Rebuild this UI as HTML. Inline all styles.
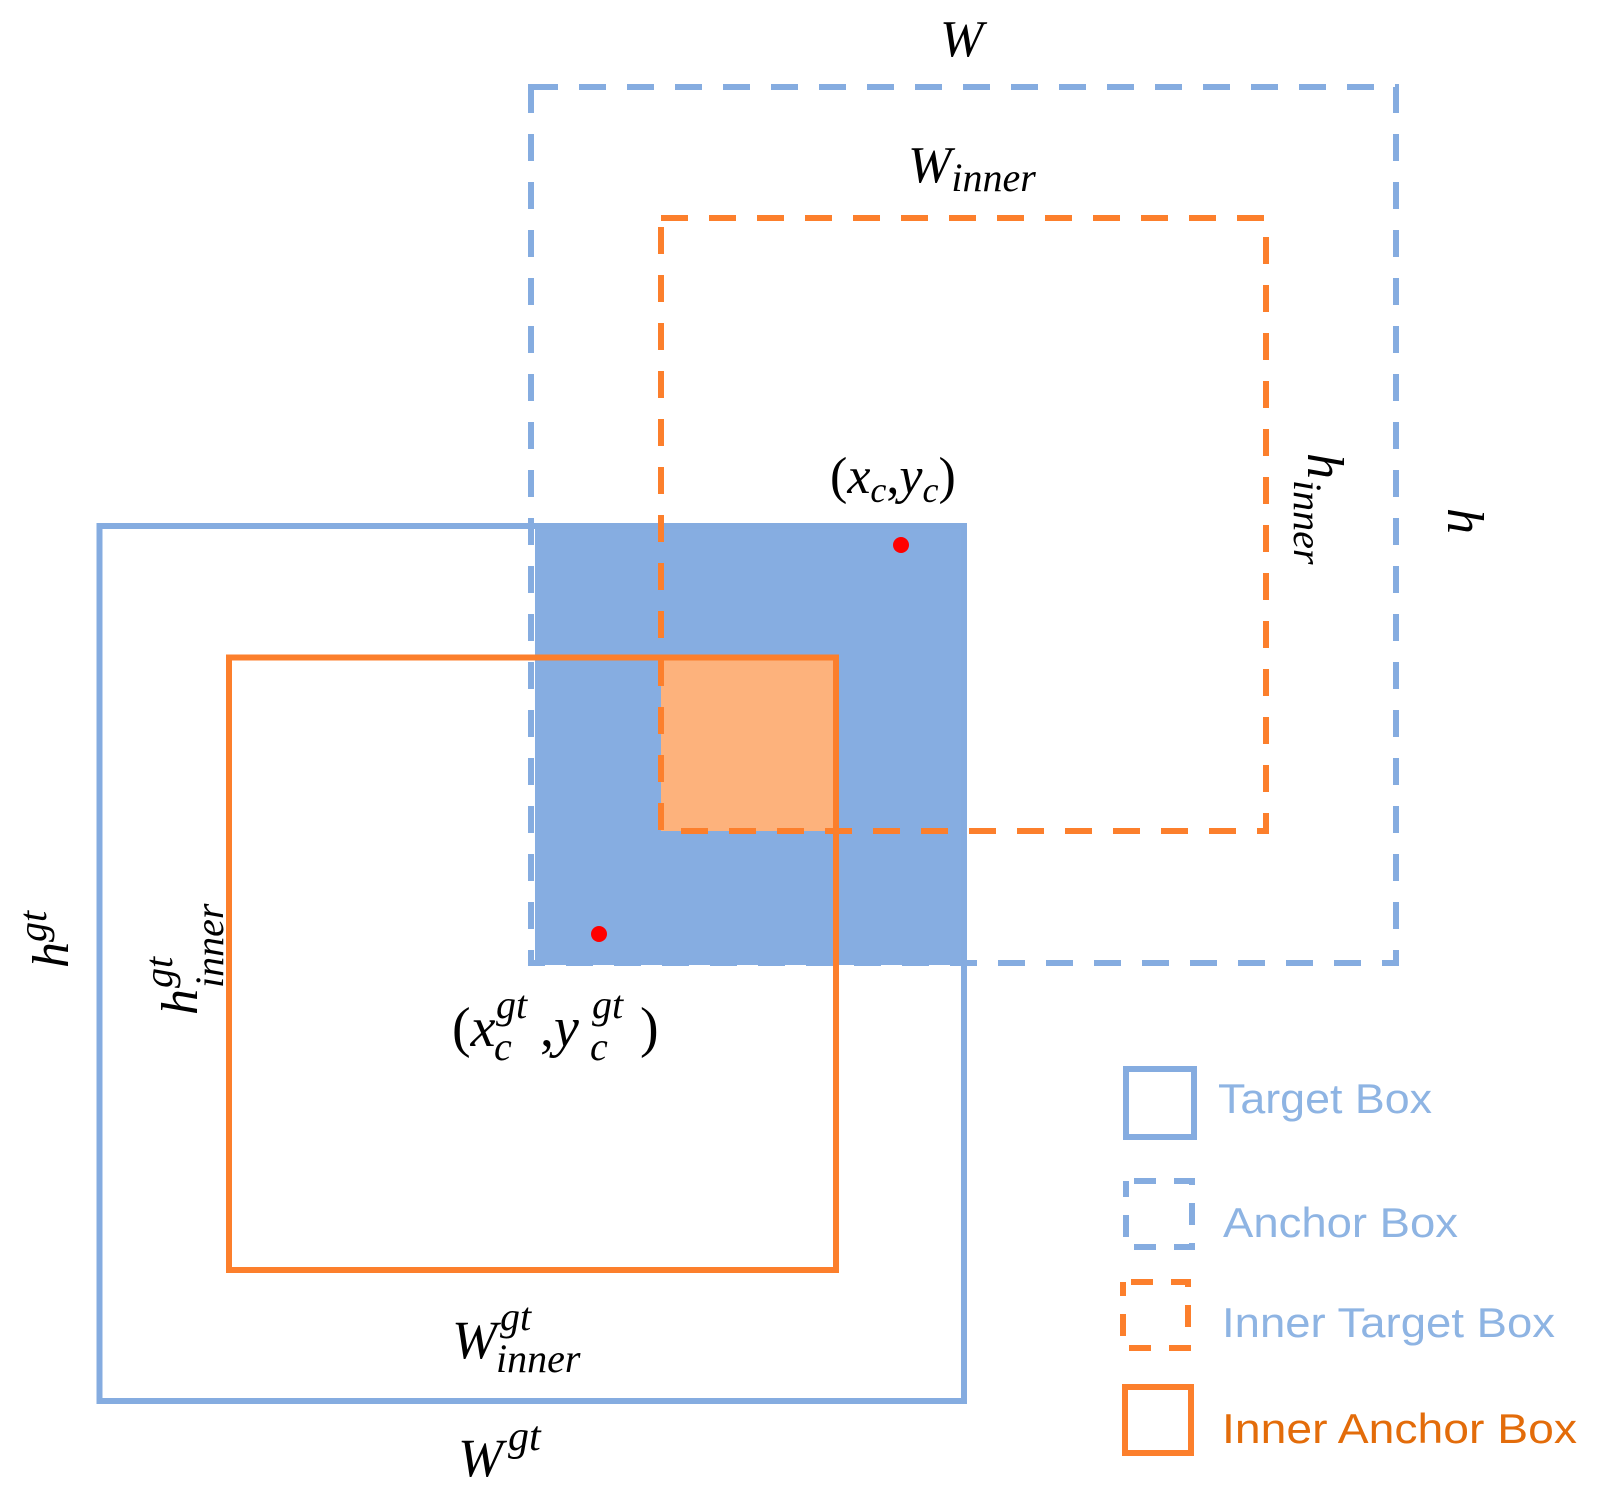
<!DOCTYPE html>
<html><head><meta charset="utf-8"><style>
html,body{margin:0;padding:0;background:#fff;}
svg{display:block;}
.m{font-family:"Liberation Serif",serif;font-style:italic;fill:#000;}
.r{font-family:"Liberation Serif",serif;font-style:normal;fill:#000;}
.lg{font-family:"Liberation Sans",sans-serif;font-size:42px;}
</style></head><body>
<svg width="1609" height="1496" viewBox="0 0 1609 1496" xmlns="http://www.w3.org/2000/svg">
<rect x="535" y="523" width="430" height="442" fill="#86ADE1"/>
<rect x="661" y="657" width="175" height="174" fill="#FDB27C"/>
<rect x="99.5" y="526" width="864.5" height="875" fill="none" stroke="#85ACE0" stroke-width="6"/>
<rect x="229" y="657.5" width="607" height="612.5" fill="none" stroke="#FC7F2C" stroke-width="6"/>
<rect x="531" y="87" width="865" height="876" fill="none" stroke="#85ACE0" stroke-width="6" stroke-dasharray="27 21"/>
<rect x="661" y="218" width="605" height="613" fill="none" stroke="#FC7F2C" stroke-width="6" stroke-dasharray="27 21"/>
<circle cx="901" cy="545" r="8" fill="#FF0000"/>
<circle cx="599" cy="934" r="8" fill="#FF0000"/>
<text class="m" x="940" y="56" font-size="52">W</text>
<text class="m" x="908" y="182" font-size="52">W<tspan font-size="40" dy="9">inner</tspan></text>
<text class="r" x="830" y="493" font-size="52">(<tspan class="m">x</tspan><tspan class="m" font-size="36" dy="9">c</tspan><tspan dy="-9">,</tspan><tspan class="m">y</tspan><tspan class="m" font-size="36" dy="9">c</tspan><tspan dy="-9">)</tspan></text>
<text class="m" font-size="52" transform="translate(1308,453) rotate(90)">h</text>
<text class="m" font-size="40" transform="translate(1294,480) rotate(90)">inner</text>
<text class="m" font-size="52" transform="translate(1448,508) rotate(90)">h</text>
<text class="m" font-size="52" transform="translate(68,968) rotate(-90)">h<tspan font-size="40" dy="-22">gt</tspan></text>
<text class="m" font-size="52" transform="translate(197,1015) rotate(-90)">h</text>
<text class="m" font-size="40" transform="translate(172,988) rotate(-90)">gt</text>
<text class="m" font-size="40" transform="translate(223,988) rotate(-90)">inner</text>
<text class="r" x="452" y="1046" font-size="56">(<tspan class="m">x</tspan></text>
<text class="m" x="496" y="1018" font-size="40">gt</text>
<text class="m" x="494" y="1060" font-size="40">c</text>
<text class="r" x="540" y="1046" font-size="56">,<tspan class="m">y</tspan></text>
<text class="m" x="592" y="1018" font-size="40">gt</text>
<text class="m" x="590" y="1060" font-size="40">c</text>
<text class="r" x="640" y="1046" font-size="56">)</text>
<text class="m" x="452" y="1358" font-size="54">W</text>
<text class="m" x="500" y="1330" font-size="40">gt</text>
<text class="m" x="496" y="1372" font-size="40">inner</text>
<text class="m" x="458" y="1476" font-size="54">W</text>
<text class="m" x="508" y="1450" font-size="42">gt</text>
<rect x="1126" y="1069" width="68" height="68" fill="none" stroke="#85ACE0" stroke-width="6"/>
<rect x="1126" y="1181" width="66" height="66" fill="none" stroke="#85ACE0" stroke-width="6" stroke-dasharray="22 18" stroke-dashoffset="-8"/>
<rect x="1123" y="1282" width="65" height="66" fill="none" stroke="#FC7F2C" stroke-width="6" stroke-dasharray="22 18" stroke-dashoffset="-8"/>
<rect x="1125" y="1387" width="66" height="66" fill="none" stroke="#FC7F2C" stroke-width="6"/>
<text class="lg" x="1218" y="1113" fill="#8EB4E3" textLength="214" lengthAdjust="spacingAndGlyphs">Target Box</text>
<text class="lg" x="1223" y="1237" fill="#8EB4E3" textLength="235" lengthAdjust="spacingAndGlyphs">Anchor Box</text>
<text class="lg" x="1222" y="1337" fill="#8EB4E3" textLength="333" lengthAdjust="spacingAndGlyphs">Inner Target Box</text>
<text class="lg" x="1222" y="1443" fill="#E36C0A" textLength="355" lengthAdjust="spacingAndGlyphs">Inner Anchor Box</text>
</svg>
</body></html>
